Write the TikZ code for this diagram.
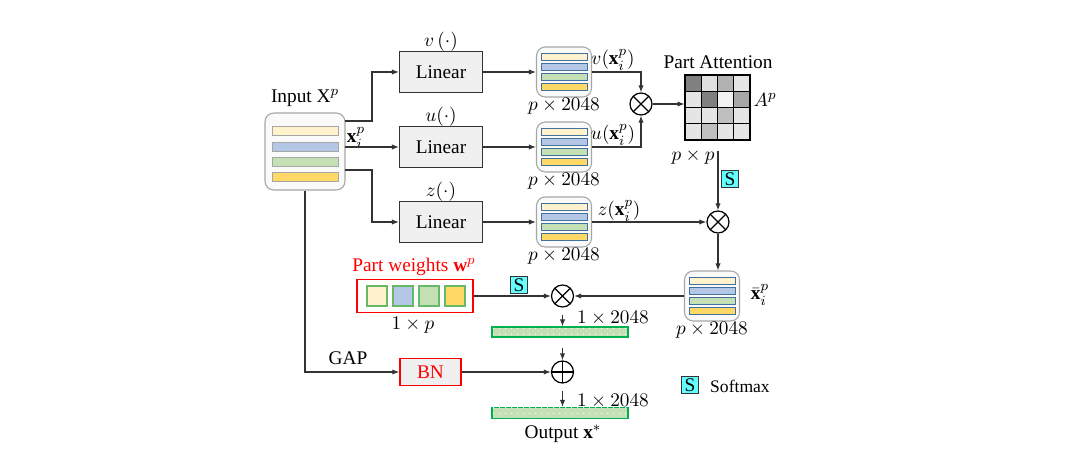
\documentclass[tikz,border=0pt]{standalone}
\usepackage{fontspec}
\setmainfont{Liberation Serif}
\usetikzlibrary{arrows.meta,patterns.meta,calc}

\definecolor{barY}{HTML}{FFF2CC}
\definecolor{barB}{HTML}{B4C7E7}
\definecolor{barG}{HTML}{C5E0B4}
\definecolor{barO}{HTML}{FFD966}
\definecolor{barEdge}{HTML}{41719C}
\definecolor{softCyan}{HTML}{66FFFF}
\definecolor{vecEdge}{HTML}{00B050}

\tikzdeclarepattern{
  name=sparsedots,
  type=uncolored,
  bounding box={(-1.6pt,-1.6pt) and (1.6pt,1.6pt)},
  tile size={(3.2pt,3.2pt)},
  code={\fill (0,0) circle (0.35pt);}
}

\tikzset{
  line/.style={draw=black!80, line width=0.6pt},
  arr/.style={line, -{Latex[length=4pt,width=3pt]}},
  linbox/.style={draw=black!80, line width=0.6pt, fill=black!6, minimum width=1.66cm, minimum height=0.82cm},
  featbox/.style={draw=black!35, line width=0.6pt, fill=black!2, rounded corners=5pt, minimum width=1.1cm, minimum height=1.0cm},
  opnode/.style={draw, circle, line width=0.7pt, minimum size=0.44cm, inner sep=0pt},
  timesnode/.style={opnode, path picture={\draw (path picture bounding box.north west) -- (path picture bounding box.south east) (path picture bounding box.north east) -- (path picture bounding box.south west);}},
  plusnode/.style={opnode, path picture={\draw (path picture bounding box.north) -- (path picture bounding box.south) (path picture bounding box.west) -- (path picture bounding box.east);}},
  smax/.style={draw=black!80, fill=softCyan, line width=0.5pt, minimum size=0.34cm, inner sep=0pt},
  vecbar/.style={draw=vecEdge, line width=0.6pt, fill=barG, postaction={pattern=sparsedots, pattern color=white}},
}

% 4 bars inside a feature box
\newcommand{\featbars}[2]{%
  \foreach \c/\dy in {barY/-15,barB/-5,barG/5,barO/15}
    \draw[barEdge, line width=0.5pt, fill=\c] (#1-23,#2+\dy-3.3) rectangle (#1+23,#2+\dy+3.3);
}

\begin{document}
\begin{tikzpicture}[x=0.02cm, y=-0.02cm, font=\fontsize{11}{13}\selectfont]
    \useasboundingbox (0,0) rectangle (1071,469);

    % Input
    \node[featbox, minimum width=1.6cm, minimum height=1.54cm] (in) at (305,151.5) {};
    \foreach \c/\yy in {barY/131,barB/146.5,barG/161.5,barO/176.5}
      \draw[black!35, line width=0.5pt, fill=\c] (272,\yy-4.5) rectangle (338,\yy+4.5);
    \node (inlab) at (305,98) {Input X$^p$};
    \node (xi) at (356,138) {$\mathbf{x}_i^p$};

    % Linear layers
    \node[linbox] (lv) at (441,72) {Linear};
    \node[linbox] (lu) at (441,147) {Linear};
    \node[linbox] (lz) at (441,222) {Linear};
    \node (fv) at (441,42) {$v\,(\cdot)$};
    \node (fu) at (441,117) {$u(\cdot)$};
    \node (fz) at (441,192) {$z(\cdot)$};

    \draw[arr] (345,121) -| (372,72) -- (lv.west);
    \draw[arr] (345,147) -- (lu.west);
    \draw[arr] (345,170) -| (372,222) -- (lz.west);

    % Features
    \node[featbox] (bv) at (564,72) {};
    \featbars{564}{72}
    \node[featbox] (bu) at (564,147) {};
    \featbars{564}{147}
    \node[featbox] (bz) at (564,222) {};
    \featbars{564}{222}
    \node (dv) at (564,106) {$p\times2048$};
    \node (du) at (564,181) {$p\times2048$};
    \node (dz) at (564,256) {$p\times2048$};

    \draw[arr] (lv.east) -- (bv.west);
    \draw[arr] (lu.east) -- (bu.west);
    \draw[arr] (lz.east) -- (bz.west);

    % Multiplication v, u
    \node[timesnode] (m1) at (641,104) {};
    \draw[arr] (bv.east) -| (m1.north);
    \draw[arr] (bu.east) -| (m1.south);
    \node (lvx) at (613,60) {$v(\mathbf{x}_i^p)$};
    \node (lux) at (613,135) {$u(\mathbf{x}_i^p)$};

    % Part attention matrix
    \def\cellW{16.25}
    \foreach \row/\vals in {0/{50,12,30,10}, 1/{10,50,5,35}, 2/{10,10,25,10}, 3/{10,25,10,10}}
      \foreach \g [count=\col from 0] in \vals
        \draw[black, line width=0.8pt, fill=black!\g] (685+\col*\cellW,75+\row*\cellW) rectangle ++(\cellW,\cellW);
    \node[minimum width=1.3cm, minimum height=1.3cm, inner sep=0pt] (att) at (717.5,107.5) {};
    \node (attlab) at (718,62) {Part Attention};
    \node (ap) at (765,100) {$A^p$};
    \node (pp) at (693,157) {$p\times p$};
    \draw[arr] (m1.east) -- (m1.east -| att.west);

    % Multiplication with z
    \node[timesnode] (m2) at (718,222) {};
    \draw[arr, shorten <=6pt] (att.south -| m2.north) -- (m2.north);
    \node[smax] (s1) at (730,179) {S};
    \draw[arr] (bz.east) -- (m2.west);
    \node (lzx) at (619,211) {$z(\mathbf{x}_i^p)$};

    % Refined features
    \node[featbox] (bx) at (712,296) {};
    \featbars{712}{296}
    \node (lxb) at (760,295) {$\bar{\mathbf{x}}_i^p$};
    \node (dx) at (712,330) {$p\times2048$};
    \draw[arr] (m2.south) -- (m2.south |- bx.north);

    % Part weights
    \node[draw=red, line width=0.8pt, minimum width=2.32cm, minimum height=0.66cm] (pw) at (415,296) {};
    \foreach \c [count=\i from 0] in {barY,barB,barG,barO}
      \draw[green!55!black!60, line width=0.6pt, fill=\c] (367+\i*26,286) rectangle ++(20,20);
    \node[text=red] (pwlab) at (414,267) {Part weights $\mathbf{w}^p$};
    \node (pwd) at (413,325) {$1\times p$};

    % Weighting
    \node[timesnode] (m3) at (562.5,296) {};
    \draw[arr] (bx.west) -- (m3.east);
    \draw[arr] (pw.east) -- (m3.west);
    \node[smax] (s2) at (519,285) {S};

    \node[vecbar, minimum width=2.72cm, minimum height=0.2cm, inner sep=0pt] (v1) at (560,332) {};
    \draw[arr, shorten <=4pt] (m3.south) -- (m3.south |- v1.north);
    \node[anchor=west] (d1) at (571,318) {$1\times2048$};

    % Residual
    \node[plusnode] (add) at (562.5,372) {};
    \draw[arr, shorten <=6pt] (m3.south |- v1.south) -- (add.north);

    \node[draw=red, line width=0.8pt, fill=black!6, text=red, minimum width=1.22cm, minimum height=0.54cm] (bn) at (430.5,372) {BN};
    \draw[arr] (in.south) -- (in.south |- bn.west) -- (bn.west);
    \node (gap) at (348,358) {GAP};
    \draw[arr] (bn.east) -- (add.west);

    % Output
    \node[vecbar, minimum width=2.72cm, minimum height=0.22cm, inner sep=0pt] (v2) at (560,413) {};
    \draw[arr, shorten <=4pt] (add.south) -- (add.south |- v2.north);
    \node[anchor=west] (d2) at (571,401) {$1\times2048$};
    \node (out) at (563,434) {Output $\mathbf{x}^{*}$};

    % Legend
    \node[smax] (s3) at (690,385) {S};
    \node[anchor=west, font=\fontsize{10}{12}\selectfont] (sml) at (704,386) {Softmax};
\end{tikzpicture}
\end{document}
